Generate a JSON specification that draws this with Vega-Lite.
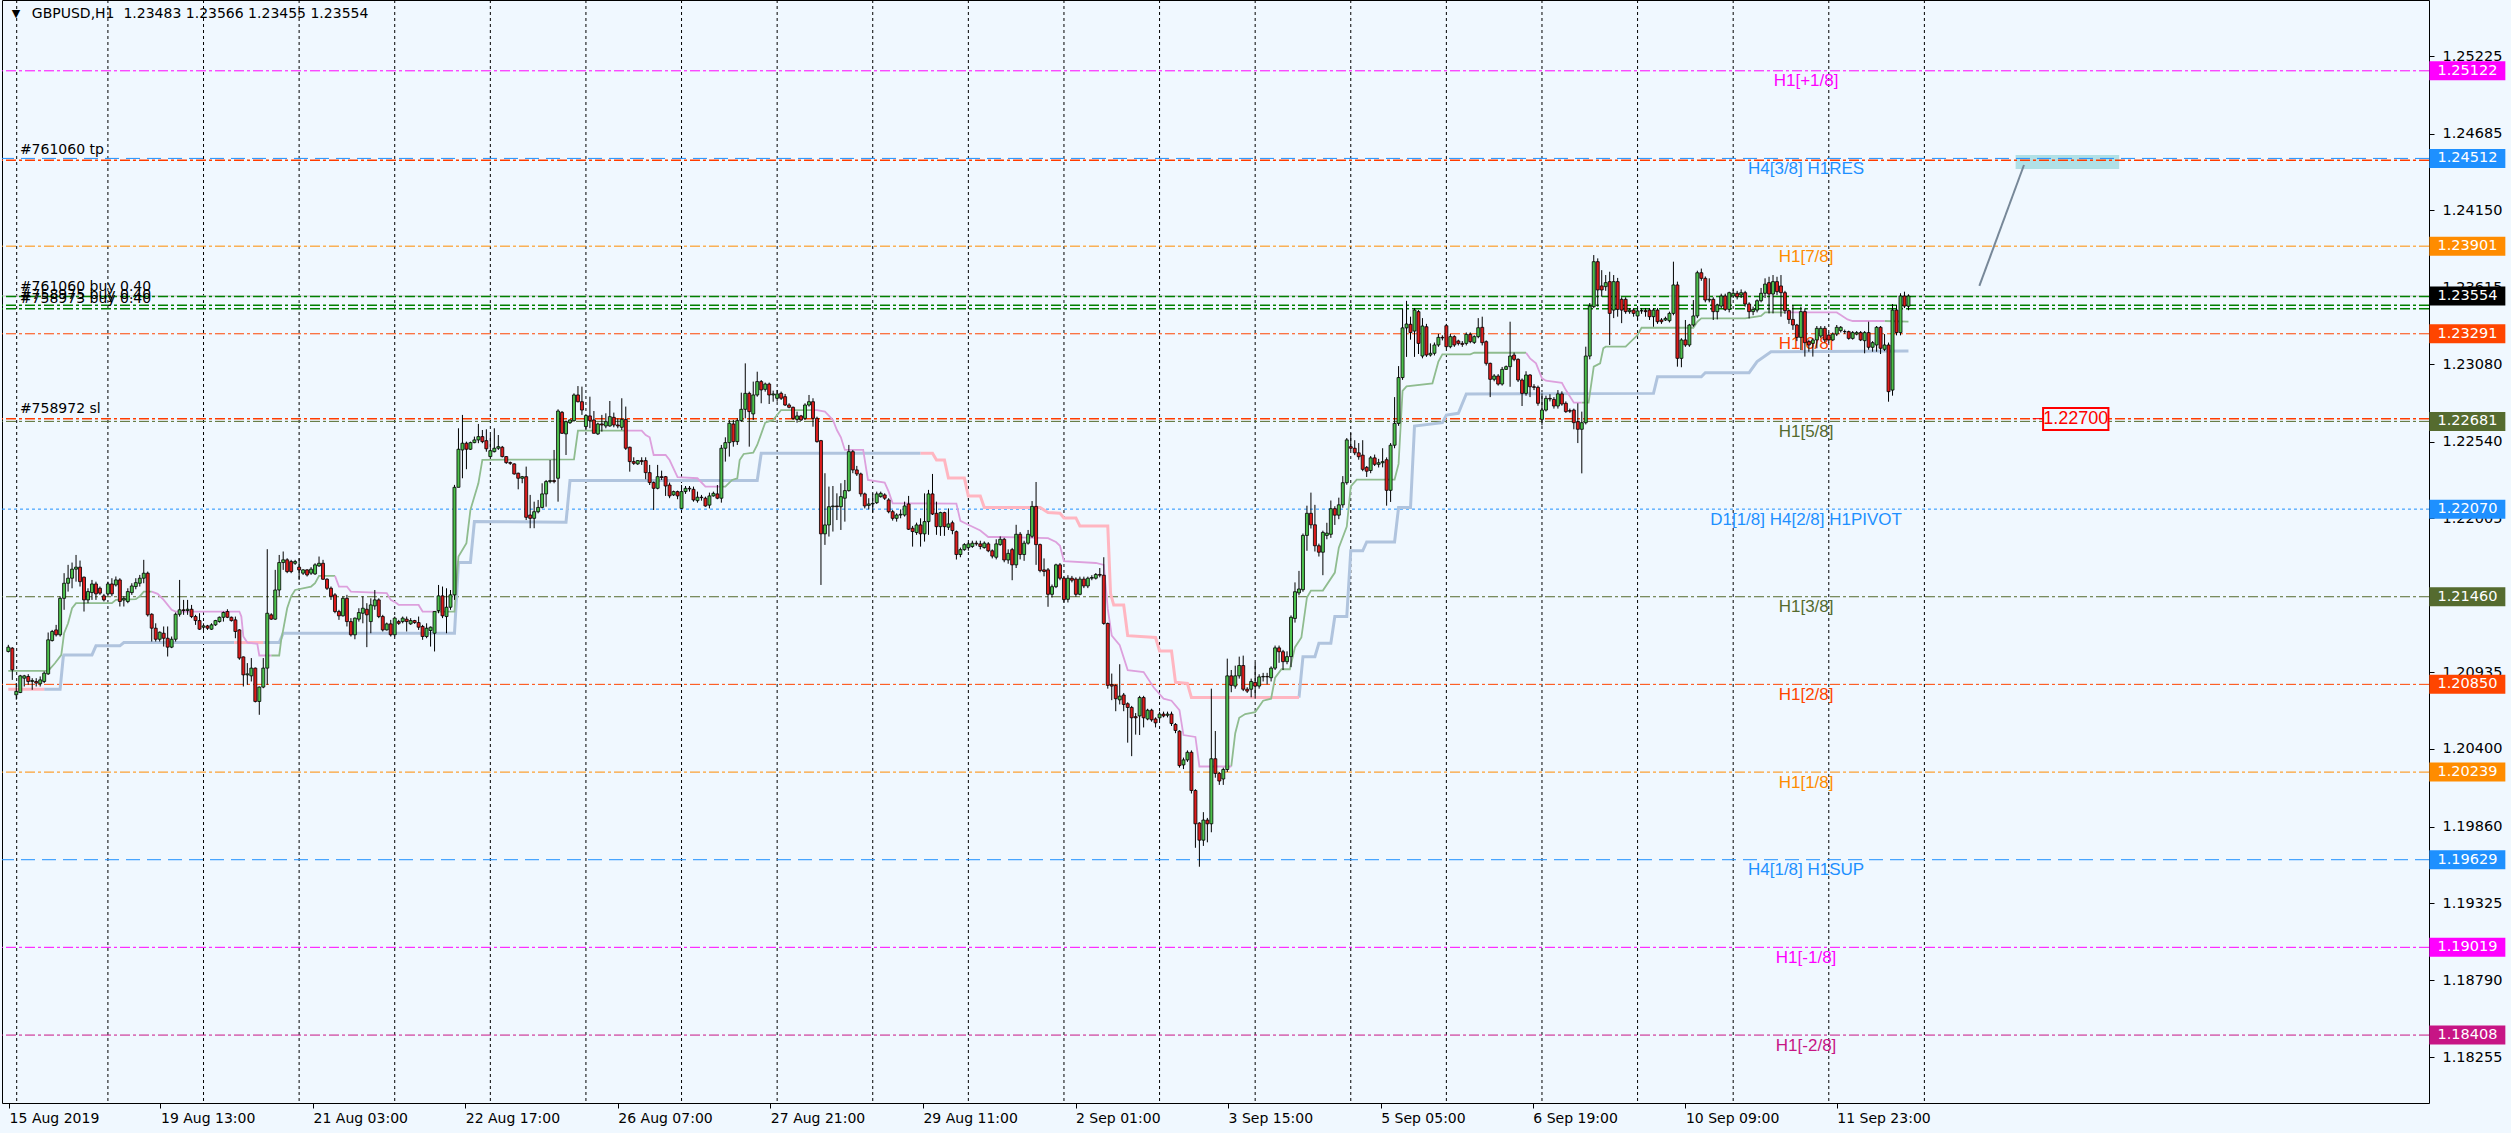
{
"$schema": "https://vega.github.io/schema/vega-lite/v6.json",
"width": 2427, "height": 1103,
"autosize": {"type": "none"},
"padding": {"left": 2, "top": 0, "right": 82, "bottom": 30},
"background": "#F0F8FF",
"config": {"view": {"stroke": "#000000", "strokeWidth": 1}, "axis": {"grid": false, "domain": false, "title": null}},
"datasets": {
"grid": [{"k":2.1},{"k":25},{"k":49},{"k":73},{"k":97},{"k":121},{"k":145},{"k":169},{"k":193},{"k":217},{"k":241},{"k":265},{"k":289},{"k":313},{"k":337},{"k":361},{"k":385},{"k":409},{"k":433},{"k":457},{"k":481}],
"levels": [
{"p":1.25122,"lbl":"H1[+1/8]"},
{"p":1.24512,"lbl":"H4[3/8] H1RES"},
{"p":1.23901,"lbl":"H1[7/8]"},
{"p":1.23291,"lbl":"H1[6/8]"},
{"p":1.22681,"lbl":"H1[5/8]"},
{"p":1.2207,"lbl":"D1[1/8] H4[2/8] H1PIVOT"},
{"p":1.2146,"lbl":"H1[3/8]"},
{"p":1.2085,"lbl":"H1[2/8]"},
{"p":1.20239,"lbl":"H1[1/8]"},
{"p":1.19629,"lbl":"H4[1/8] H1SUP"},
{"p":1.19019,"lbl":"H1[-1/8]"},
{"p":1.18408,"lbl":"H1[-2/8]"}],
"orders": [
{"p":1.2355,"name":"#761060 buy 0.40","kind":"buy"},
{"p":1.23489,"name":"#758975 buy 0.40","kind":"buy"},
{"p":1.23466,"name":"#758973 buy 0.40","kind":"buy"},
{"p":1.245,"name":"#761060 tp","kind":"tp"},
{"p":1.227,"name":"#758972 sl","kind":"sl"}],
"trend": [{"k":494.8,"p":1.23624},{"k":506.0,"p":1.24466}],
"bid": [{"p":1.23554}],
"title": [{"t":"GBPUSD,H1\u00a0\u00a01.23483 1.23566 1.23455 1.23554"}],
"ind": [
{"t":"fu","s":"A1","k":0,"v":1.20944},{"t":"fu","s":"A1","k":10,"v":1.20944},{"t":"fu","s":"A1","k":11.7,"v":1.20997},{"t":"fu","s":"A1","k":13.3,"v":1.21055},{"t":"fu","s":"A1","k":14,"v":1.21206},{"t":"fu","s":"A1","k":15,"v":1.21275},{"t":"fu","s":"A1","k":16,"v":1.2138},{"t":"fu","s":"A1","k":17,"v":1.21415},{"t":"fu","s":"A1","k":26,"v":1.21415},{"t":"fu","s":"A1","k":27,"v":1.21438},{"t":"fu","s":"A1","k":32,"v":1.21443},{"t":"fu","s":"A1","k":33,"v":1.21463},{"t":"fu","s":"A1","k":34,"v":1.21496},{"t":"fu","s":"A1","k":36,"v":1.21496},
{"t":"fd","s":"A2","k":36,"v":1.21496},{"t":"fd","s":"A2","k":37.5,"v":1.2148},{"t":"fd","s":"A2","k":39,"v":1.21438},{"t":"fd","s":"A2","k":41,"v":1.21369},{"t":"fd","s":"A2","k":42,"v":1.21357},{"t":"fd","s":"A2","k":58,"v":1.21357},{"t":"fd","s":"A2","k":58.5,"v":1.21322},{"t":"fd","s":"A2","k":59,"v":1.21183},{"t":"fd","s":"A2","k":60,"v":1.21141},{"t":"fd","s":"A2","k":62.5,"v":1.21132},{"t":"fd","s":"A2","k":63,"v":1.21051},{"t":"fd","s":"A2","k":66,"v":1.21051},
{"t":"fu","s":"A3","k":66,"v":1.21051},{"t":"fu","s":"A3","k":68,"v":1.21051},{"t":"fu","s":"A3","k":68.5,"v":1.2116},{"t":"fu","s":"A3","k":69,"v":1.21229},{"t":"fu","s":"A3","k":70,"v":1.2138},{"t":"fu","s":"A3","k":71,"v":1.21463},{"t":"fu","s":"A3","k":72,"v":1.21507},{"t":"fu","s":"A3","k":76,"v":1.21531},{"t":"fu","s":"A3","k":77,"v":1.21554},{"t":"fu","s":"A3","k":78,"v":1.21605},{"t":"fu","s":"A3","k":82,"v":1.21605},
{"t":"fd","s":"A4","k":82,"v":1.21605},{"t":"fd","s":"A4","k":83,"v":1.21531},{"t":"fd","s":"A4","k":85,"v":1.21531},{"t":"fd","s":"A4","k":86,"v":1.21496},{"t":"fd","s":"A4","k":95,"v":1.21485},{"t":"fd","s":"A4","k":96,"v":1.21438},{"t":"fd","s":"A4","k":97.5,"v":1.21415},{"t":"fd","s":"A4","k":98,"v":1.21403},{"t":"fd","s":"A4","k":103,"v":1.21403},{"t":"fd","s":"A4","k":104,"v":1.21357},{"t":"fd","s":"A4","k":107,"v":1.21357},
{"t":"fu","s":"A5","k":107,"v":1.21357},{"t":"fu","s":"A5","k":112,"v":1.21357},{"t":"fu","s":"A5","k":112.5,"v":1.21554},{"t":"fu","s":"A5","k":113,"v":1.2174},{"t":"fu","s":"A5","k":115,"v":1.21833},{"t":"fu","s":"A5","k":116,"v":1.22065},{"t":"fu","s":"A5","k":118,"v":1.2225},{"t":"fu","s":"A5","k":119,"v":1.22413},{"t":"fu","s":"A5","k":142,"v":1.22417},{"t":"fu","s":"A5","k":143,"v":1.22617},{"t":"fu","s":"A5","k":155,"v":1.22617},
{"t":"fd","s":"A6","k":155,"v":1.22617},{"t":"fd","s":"A6","k":159,"v":1.22617},{"t":"fd","s":"A6","k":160,"v":1.22586},{"t":"fd","s":"A6","k":161,"v":1.2257},{"t":"fd","s":"A6","k":162,"v":1.22447},{"t":"fd","s":"A6","k":165,"v":1.22447},{"t":"fd","s":"A6","k":166,"v":1.22412},{"t":"fd","s":"A6","k":168,"v":1.22292},{"t":"fd","s":"A6","k":173,"v":1.22285},{"t":"fd","s":"A6","k":175,"v":1.22227},{"t":"fd","s":"A6","k":179,"v":1.22227},
{"t":"fu","s":"A7","k":179,"v":1.22227},{"t":"fu","s":"A7","k":180,"v":1.22227},{"t":"fu","s":"A7","k":181.7,"v":1.22273},{"t":"fu","s":"A7","k":183,"v":1.22285},{"t":"fu","s":"A7","k":183.6,"v":1.22412},{"t":"fu","s":"A7","k":184.6,"v":1.22454},{"t":"fu","s":"A7","k":187,"v":1.22463},{"t":"fu","s":"A7","k":188,"v":1.22517},{"t":"fu","s":"A7","k":190,"v":1.22672},{"t":"fu","s":"A7","k":192,"v":1.22691},{"t":"fu","s":"A7","k":194,"v":1.2276},{"t":"fu","s":"A7","k":202,"v":1.2276},
{"t":"fd","s":"A8","k":202,"v":1.2276},{"t":"fd","s":"A8","k":203,"v":1.2276},{"t":"fd","s":"A8","k":205,"v":1.22749},{"t":"fd","s":"A8","k":207,"v":1.22691},{"t":"fd","s":"A8","k":208,"v":1.22621},{"t":"fd","s":"A8","k":209,"v":1.2257},{"t":"fd","s":"A8","k":210,"v":1.22482},{"t":"fd","s":"A8","k":214.6,"v":1.22482},{"t":"fd","s":"A8","k":215.8,"v":1.22273},{"t":"fd","s":"A8","k":220,"v":1.22255},{"t":"fd","s":"A8","k":221,"v":1.22192},{"t":"fd","s":"A8","k":222,"v":1.22111},{"t":"fd","s":"A8","k":238,"v":1.22108},{"t":"fd","s":"A8","k":239,"v":1.21988},{"t":"fd","s":"A8","k":241,"v":1.21961},{"t":"fd","s":"A8","k":244,"v":1.21921},{"t":"fd","s":"A8","k":246,"v":1.21876},{"t":"fd","s":"A8","k":249,"v":1.21876},{"t":"fd","s":"A8","k":261,"v":1.21868},{"t":"fd","s":"A8","k":263,"v":1.21841},{"t":"fd","s":"A8","k":264,"v":1.21815},{"t":"fd","s":"A8","k":265,"v":1.21708},{"t":"fd","s":"A8","k":273,"v":1.21695},{"t":"fd","s":"A8","k":275,"v":1.21682},{"t":"fd","s":"A8","k":276,"v":1.21375},{"t":"fd","s":"A8","k":277,"v":1.21189},{"t":"fd","s":"A8","k":279,"v":1.21123},{"t":"fd","s":"A8","k":281,"v":1.20949},{"t":"fd","s":"A8","k":285,"v":1.20936},{"t":"fd","s":"A8","k":287.5,"v":1.2083},{"t":"fd","s":"A8","k":290,"v":1.2075},{"t":"fd","s":"A8","k":292,"v":1.20736},{"t":"fd","s":"A8","k":294,"v":1.2067},{"t":"fd","s":"A8","k":295,"v":1.20497},{"t":"fd","s":"A8","k":298,"v":1.20484},{"t":"fd","s":"A8","k":299,"v":1.20278},{"t":"fd","s":"A8","k":307,"v":1.20278},
{"t":"fu","s":"A9","k":307,"v":1.20278},{"t":"fu","s":"A9","k":308,"v":1.2051},{"t":"fu","s":"A9","k":309,"v":1.20617},{"t":"fu","s":"A9","k":310.5,"v":1.20643},{"t":"fu","s":"A9","k":313,"v":1.20657},{"t":"fu","s":"A9","k":315,"v":1.20736},{"t":"fu","s":"A9","k":317,"v":1.2075},{"t":"fu","s":"A9","k":318,"v":1.20896},{"t":"fu","s":"A9","k":319.6,"v":1.20955},{"t":"fu","s":"A9","k":321.7,"v":1.20955},{"t":"fu","s":"A9","k":323,"v":1.21109},{"t":"fu","s":"A9","k":324.6,"v":1.21176},{"t":"fu","s":"A9","k":326,"v":1.21455},{"t":"fu","s":"A9","k":327,"v":1.21503},{"t":"fu","s":"A9","k":330,"v":1.21503},{"t":"fu","s":"A9","k":333,"v":1.21628},{"t":"fu","s":"A9","k":334,"v":1.21802},{"t":"fu","s":"A9","k":336,"v":1.21948},{"t":"fu","s":"A9","k":337,"v":1.22228},{"t":"fu","s":"A9","k":338.5,"v":1.22276},{"t":"fu","s":"A9","k":348,"v":1.22276},{"t":"fu","s":"A9","k":349,"v":1.22385},{"t":"fu","s":"A9","k":350,"v":1.22893},{"t":"fu","s":"A9","k":351,"v":1.22925},{"t":"fu","s":"A9","k":357.5,"v":1.22946},{"t":"fu","s":"A9","k":359,"v":1.23097},{"t":"fu","s":"A9","k":360,"v":1.23148},{"t":"fu","s":"A9","k":367,"v":1.23148},{"t":"fu","s":"A9","k":368,"v":1.23159},{"t":"fu","s":"A9","k":381,"v":1.23159},
{"t":"fd","s":"A10","k":381,"v":1.23159},{"t":"fd","s":"A10","k":382,"v":1.2312},{"t":"fd","s":"A10","k":383.5,"v":1.23085},{"t":"fd","s":"A10","k":385,"v":1.22981},{"t":"fd","s":"A10","k":386,"v":1.22964},{"t":"fd","s":"A10","k":390,"v":1.2295},{"t":"fd","s":"A10","k":391,"v":1.22899},{"t":"fd","s":"A10","k":393,"v":1.22811},{"t":"fd","s":"A10","k":395,"v":1.22811},
{"t":"fu","s":"A11","k":395,"v":1.22811},{"t":"fu","s":"A11","k":396.7,"v":1.22811},{"t":"fu","s":"A11","k":398,"v":1.23062},{"t":"fu","s":"A11","k":399.6,"v":1.23085},{"t":"fu","s":"A11","k":400.4,"v":1.2319},{"t":"fu","s":"A11","k":401,"v":1.23201},{"t":"fu","s":"A11","k":406,"v":1.23201},{"t":"fu","s":"A11","k":409,"v":1.23282},{"t":"fu","s":"A11","k":410,"v":1.23333},{"t":"fu","s":"A11","k":423,"v":1.23333},{"t":"fu","s":"A11","k":424,"v":1.23375},{"t":"fu","s":"A11","k":425,"v":1.23398},{"t":"fu","s":"A11","k":436,"v":1.23398},{"t":"fu","s":"A11","k":440,"v":1.23415},{"t":"fu","s":"A11","k":441,"v":1.2344},{"t":"fu","s":"A11","k":446,"v":1.2344},
{"t":"fd","s":"A12","k":446,"v":1.2344},{"t":"fd","s":"A12","k":459,"v":1.2344},{"t":"fd","s":"A12","k":460,"v":1.23422},{"t":"fd","s":"A12","k":461.7,"v":1.23391},{"t":"fd","s":"A12","k":463,"v":1.2338},{"t":"fd","s":"A12","k":471,"v":1.2338},
{"t":"fu","s":"A13","k":471,"v":1.2338},{"t":"fu","s":"A13","k":477,"v":1.23375},
{"t":"sd","s":"B1","k":0,"v":1.20816},{"t":"sd","s":"B1","k":9,"v":1.20816},
{"t":"su","s":"B2","k":9,"v":1.20816},{"t":"su","s":"B2","k":13,"v":1.20816},{"t":"su","s":"B2","k":13.8,"v":1.21044},{"t":"su","s":"B2","k":14,"v":1.21055},{"t":"su","s":"B2","k":21,"v":1.21055},{"t":"su","s":"B2","k":22,"v":1.21118},{"t":"su","s":"B2","k":28,"v":1.21118},{"t":"su","s":"B2","k":29,"v":1.21141},{"t":"su","s":"B2","k":56.7,"v":1.21141},
{"t":"sd","s":"B3","k":56.7,"v":1.21141},{"t":"sd","s":"B3","k":64,"v":1.21141},
{"t":"su","s":"B4","k":64,"v":1.21141},{"t":"su","s":"B4","k":68,"v":1.21141},{"t":"su","s":"B4","k":69,"v":1.21206},{"t":"su","s":"B4","k":112,"v":1.21206},{"t":"su","s":"B4","k":113,"v":1.21698},{"t":"su","s":"B4","k":116,"v":1.21698},{"t":"su","s":"B4","k":117,"v":1.21983},{"t":"su","s":"B4","k":140,"v":1.21979},{"t":"su","s":"B4","k":141,"v":1.22269},{"t":"su","s":"B4","k":188,"v":1.22269},{"t":"su","s":"B4","k":189,"v":1.22459},{"t":"su","s":"B4","k":229,"v":1.22459},
{"t":"sd","s":"B5","k":229,"v":1.22459},{"t":"sd","s":"B5","k":232,"v":1.22459},{"t":"sd","s":"B5","k":233,"v":1.22412},{"t":"sd","s":"B5","k":235,"v":1.22412},{"t":"sd","s":"B5","k":236,"v":1.22286},{"t":"sd","s":"B5","k":240,"v":1.22286},{"t":"sd","s":"B5","k":241,"v":1.22161},{"t":"sd","s":"B5","k":244,"v":1.22161},{"t":"sd","s":"B5","k":245,"v":1.22081},{"t":"sd","s":"B5","k":259,"v":1.22081},{"t":"sd","s":"B5","k":261,"v":1.22047},{"t":"sd","s":"B5","k":264,"v":1.22041},{"t":"sd","s":"B5","k":265,"v":1.22009},{"t":"sd","s":"B5","k":268,"v":1.22009},{"t":"sd","s":"B5","k":269,"v":1.21953},{"t":"sd","s":"B5","k":276,"v":1.21953},{"t":"sd","s":"B5","k":276.7,"v":1.21482},{"t":"sd","s":"B5","k":277.5,"v":1.21402},{"t":"sd","s":"B5","k":280,"v":1.21402},{"t":"sd","s":"B5","k":281,"v":1.21189},{"t":"sd","s":"B5","k":288,"v":1.21176},{"t":"sd","s":"B5","k":289,"v":1.21083},{"t":"sd","s":"B5","k":292,"v":1.21083},{"t":"sd","s":"B5","k":293,"v":1.20864},{"t":"sd","s":"B5","k":296,"v":1.20856},{"t":"sd","s":"B5","k":297,"v":1.20758},{"t":"sd","s":"B5","k":324,"v":1.20758},
{"t":"su","s":"B6","k":324,"v":1.20758},{"t":"su","s":"B6","k":325,"v":1.21043},{"t":"su","s":"B6","k":328,"v":1.21043},{"t":"su","s":"B6","k":329,"v":1.21136},{"t":"su","s":"B6","k":332,"v":1.21136},{"t":"su","s":"B6","k":333,"v":1.21322},{"t":"su","s":"B6","k":336,"v":1.21322},{"t":"su","s":"B6","k":337,"v":1.2178},{"t":"su","s":"B6","k":340,"v":1.2178},{"t":"su","s":"B6","k":341,"v":1.21842},{"t":"su","s":"B6","k":348,"v":1.21842},{"t":"su","s":"B6","k":349,"v":1.22081},{"t":"su","s":"B6","k":352,"v":1.22081},{"t":"su","s":"B6","k":353,"v":1.22649},{"t":"su","s":"B6","k":360,"v":1.22672},{"t":"su","s":"B6","k":361,"v":1.22725},{"t":"su","s":"B6","k":364,"v":1.22737},{"t":"su","s":"B6","k":366,"v":1.22872},{"t":"su","s":"B6","k":413,"v":1.22876},{"t":"su","s":"B6","k":414,"v":1.22992},{"t":"su","s":"B6","k":425,"v":1.22992},{"t":"su","s":"B6","k":426,"v":1.2302},{"t":"su","s":"B6","k":437,"v":1.2302},{"t":"su","s":"B6","k":439,"v":1.23097},{"t":"su","s":"B6","k":442.5,"v":1.23166},{"t":"su","s":"B6","k":477,"v":1.23171}
],
"candles": [
{"k":0,"o":1.21079,"h":1.21125,"l":1.21072,"c":1.21109},
{"k":1,"o":1.21102,"h":1.21109,"l":1.20881,"c":1.20951},
{"k":2,"o":1.20777,"h":1.20859,"l":1.20743,"c":1.20801},
{"k":3,"o":1.20793,"h":1.20916,"l":1.20789,"c":1.20909},
{"k":4,"o":1.20893,"h":1.20916,"l":1.20835,"c":1.20909},
{"k":5,"o":1.20905,"h":1.20921,"l":1.20847,"c":1.2087},
{"k":6,"o":1.2087,"h":1.20893,"l":1.20812,"c":1.20877},
{"k":7,"o":1.2087,"h":1.20893,"l":1.20835,"c":1.20859},
{"k":8,"o":1.20854,"h":1.20905,"l":1.20835,"c":1.20881},
{"k":9,"o":1.2087,"h":1.2094,"l":1.20859,"c":1.20928},
{"k":10,"o":1.20923,"h":1.21211,"l":1.20916,"c":1.2116},
{"k":11,"o":1.21155,"h":1.21229,"l":1.21148,"c":1.21218},
{"k":12,"o":1.21229,"h":1.21264,"l":1.21183,"c":1.21195},
{"k":13,"o":1.21195,"h":1.21463,"l":1.21183,"c":1.21449},
{"k":14,"o":1.21449,"h":1.21624,"l":1.21369,"c":1.21554},
{"k":15,"o":1.21554,"h":1.21682,"l":1.21496,"c":1.21589},
{"k":16,"o":1.21589,"h":1.21698,"l":1.21519,"c":1.21652},
{"k":17,"o":1.21652,"h":1.21751,"l":1.21565,"c":1.21666},
{"k":18,"o":1.21666,"h":1.21712,"l":1.21531,"c":1.21565},
{"k":19,"o":1.21596,"h":1.21601,"l":1.21357,"c":1.21438},
{"k":20,"o":1.21438,"h":1.21519,"l":1.21415,"c":1.21496},
{"k":21,"o":1.21489,"h":1.21577,"l":1.21438,"c":1.21549},
{"k":22,"o":1.21549,"h":1.21565,"l":1.21438,"c":1.2148},
{"k":23,"o":1.21519,"h":1.21531,"l":1.21473,"c":1.21485},
{"k":24,"o":1.21466,"h":1.2148,"l":1.21427,"c":1.21438},
{"k":25,"o":1.2148,"h":1.21565,"l":1.21473,"c":1.21549},
{"k":26,"o":1.21549,"h":1.21589,"l":1.21463,"c":1.2148},
{"k":27,"o":1.21542,"h":1.21601,"l":1.21531,"c":1.21577},
{"k":28,"o":1.21577,"h":1.21589,"l":1.21392,"c":1.21427},
{"k":29,"o":1.21438,"h":1.21463,"l":1.21392,"c":1.21449},
{"k":30,"o":1.21427,"h":1.21519,"l":1.21415,"c":1.21496},
{"k":31,"o":1.21489,"h":1.21554,"l":1.21473,"c":1.21535},
{"k":32,"o":1.21531,"h":1.21589,"l":1.21512,"c":1.21558},
{"k":33,"o":1.21554,"h":1.21612,"l":1.21531,"c":1.21589},
{"k":34,"o":1.21589,"h":1.21717,"l":1.21554,"c":1.21624},
{"k":35,"o":1.21624,"h":1.21635,"l":1.21322,"c":1.21334},
{"k":36,"o":1.21338,"h":1.21345,"l":1.21148,"c":1.21241},
{"k":37,"o":1.21241,"h":1.21275,"l":1.21148,"c":1.21164},
{"k":38,"o":1.21164,"h":1.21218,"l":1.21148,"c":1.21213},
{"k":39,"o":1.21206,"h":1.21253,"l":1.21113,"c":1.21171},
{"k":40,"o":1.21171,"h":1.21253,"l":1.21044,"c":1.21109},
{"k":41,"o":1.21109,"h":1.21183,"l":1.21102,"c":1.21164},
{"k":42,"o":1.21164,"h":1.2135,"l":1.21148,"c":1.21338},
{"k":43,"o":1.21338,"h":1.21577,"l":1.21322,"c":1.21369},
{"k":44,"o":1.21369,"h":1.21438,"l":1.21334,"c":1.21364},
{"k":45,"o":1.21364,"h":1.21438,"l":1.21334,"c":1.21373},
{"k":46,"o":1.21373,"h":1.21403,"l":1.21311,"c":1.21322},
{"k":47,"o":1.21322,"h":1.21334,"l":1.21264,"c":1.21294},
{"k":48,"o":1.21294,"h":1.21345,"l":1.21229,"c":1.21234},
{"k":49,"o":1.21248,"h":1.21275,"l":1.21229,"c":1.21257},
{"k":50,"o":1.21257,"h":1.21264,"l":1.21229,"c":1.21241},
{"k":51,"o":1.21234,"h":1.21275,"l":1.21229,"c":1.21264},
{"k":52,"o":1.21264,"h":1.21299,"l":1.21257,"c":1.21294},
{"k":53,"o":1.21287,"h":1.21322,"l":1.2128,"c":1.21317},
{"k":54,"o":1.21317,"h":1.21357,"l":1.21287,"c":1.2135},
{"k":55,"o":1.21357,"h":1.21373,"l":1.21311,"c":1.21317},
{"k":56,"o":1.21317,"h":1.21322,"l":1.21287,"c":1.21294},
{"k":57,"o":1.21299,"h":1.21322,"l":1.21171,"c":1.21218},
{"k":58,"o":1.21229,"h":1.21234,"l":1.21021,"c":1.21033},
{"k":59,"o":1.21041,"h":1.21044,"l":1.20835,"c":1.20916},
{"k":60,"o":1.20916,"h":1.20998,"l":1.20847,"c":1.20923},
{"k":61,"o":1.20909,"h":1.21033,"l":1.2087,"c":1.20963},
{"k":62,"o":1.20963,"h":1.20967,"l":1.20724,"c":1.20731},
{"k":63,"o":1.20731,"h":1.20835,"l":1.20638,"c":1.20831},
{"k":64,"o":1.20831,"h":1.21033,"l":1.20823,"c":1.20963},
{"k":65,"o":1.20963,"h":1.21791,"l":1.20847,"c":1.21345},
{"k":66,"o":1.21334,"h":1.21345,"l":1.21299,"c":1.21304},
{"k":67,"o":1.21304,"h":1.21647,"l":1.21299,"c":1.21507},
{"k":68,"o":1.21507,"h":1.21751,"l":1.21463,"c":1.21698},
{"k":69,"o":1.21698,"h":1.21775,"l":1.21647,"c":1.21717},
{"k":70,"o":1.21717,"h":1.21728,"l":1.21624,"c":1.21635},
{"k":71,"o":1.21705,"h":1.21717,"l":1.21624,"c":1.21635},
{"k":72,"o":1.21693,"h":1.21717,"l":1.21682,"c":1.21705},
{"k":73,"o":1.21666,"h":1.21728,"l":1.21577,"c":1.21647},
{"k":74,"o":1.21624,"h":1.21652,"l":1.21612,"c":1.21647},
{"k":75,"o":1.21647,"h":1.21652,"l":1.21601,"c":1.21612},
{"k":76,"o":1.21624,"h":1.21666,"l":1.21612,"c":1.21652},
{"k":77,"o":1.21619,"h":1.21693,"l":1.21612,"c":1.21682},
{"k":78,"o":1.21675,"h":1.2174,"l":1.21668,"c":1.21693},
{"k":79,"o":1.21693,"h":1.21717,"l":1.21577,"c":1.21582},
{"k":80,"o":1.21582,"h":1.21589,"l":1.21507,"c":1.21519},
{"k":81,"o":1.21519,"h":1.21531,"l":1.21438,"c":1.21463},
{"k":82,"o":1.21473,"h":1.21485,"l":1.21345,"c":1.21357},
{"k":83,"o":1.21357,"h":1.21369,"l":1.21299,"c":1.21327},
{"k":84,"o":1.21327,"h":1.21463,"l":1.21322,"c":1.21449},
{"k":85,"o":1.21449,"h":1.21473,"l":1.21253,"c":1.21287},
{"k":86,"o":1.21287,"h":1.21311,"l":1.21183,"c":1.21195},
{"k":87,"o":1.21195,"h":1.21315,"l":1.21164,"c":1.21311},
{"k":88,"o":1.21304,"h":1.2138,"l":1.21287,"c":1.2135},
{"k":89,"o":1.21345,"h":1.21463,"l":1.21275,"c":1.2138},
{"k":90,"o":1.21373,"h":1.21415,"l":1.21109,"c":1.21334},
{"k":91,"o":1.21287,"h":1.21449,"l":1.21206,"c":1.21403},
{"k":92,"o":1.21396,"h":1.21507,"l":1.21369,"c":1.21438},
{"k":93,"o":1.21438,"h":1.21449,"l":1.21311,"c":1.21322},
{"k":94,"o":1.21322,"h":1.21334,"l":1.21218,"c":1.21229},
{"k":95,"o":1.21229,"h":1.2128,"l":1.21225,"c":1.21271},
{"k":96,"o":1.21271,"h":1.21299,"l":1.21183,"c":1.21195},
{"k":97,"o":1.21195,"h":1.21322,"l":1.21183,"c":1.21311},
{"k":98,"o":1.21287,"h":1.21299,"l":1.21264,"c":1.21275},
{"k":99,"o":1.21287,"h":1.21322,"l":1.21275,"c":1.21311},
{"k":100,"o":1.21304,"h":1.21322,"l":1.21218,"c":1.21287},
{"k":101,"o":1.21271,"h":1.21311,"l":1.21264,"c":1.21294},
{"k":102,"o":1.21294,"h":1.21299,"l":1.21271,"c":1.2128},
{"k":103,"o":1.2128,"h":1.21322,"l":1.21229,"c":1.21248},
{"k":104,"o":1.21253,"h":1.21264,"l":1.2116,"c":1.21183},
{"k":105,"o":1.21183,"h":1.21275,"l":1.21171,"c":1.21241},
{"k":106,"o":1.21225,"h":1.21253,"l":1.21113,"c":1.21248},
{"k":107,"o":1.21206,"h":1.21357,"l":1.21079,"c":1.21357},
{"k":108,"o":1.21364,"h":1.21542,"l":1.21345,"c":1.21466},
{"k":109,"o":1.21466,"h":1.21531,"l":1.21311,"c":1.21327},
{"k":110,"o":1.21322,"h":1.21519,"l":1.21206,"c":1.21387},
{"k":111,"o":1.21387,"h":1.21507,"l":1.21369,"c":1.21473},
{"k":112,"o":1.21473,"h":1.22239,"l":1.21438,"c":1.22222},
{"k":113,"o":1.22222,"h":1.22633,"l":1.22222,"c":1.22487},
{"k":114,"o":1.22482,"h":1.22726,"l":1.22285,"c":1.22529},
{"k":115,"o":1.22529,"h":1.2254,"l":1.22348,"c":1.22487},
{"k":116,"o":1.22487,"h":1.2254,"l":1.22482,"c":1.22533},
{"k":117,"o":1.22533,"h":1.22575,"l":1.22529,"c":1.22552},
{"k":118,"o":1.22552,"h":1.22663,"l":1.22529,"c":1.22575},
{"k":119,"o":1.22575,"h":1.22621,"l":1.22529,"c":1.2254},
{"k":120,"o":1.22547,"h":1.22626,"l":1.2247,"c":1.2249},
{"k":121,"o":1.22436,"h":1.22586,"l":1.22436,"c":1.22477},
{"k":122,"o":1.2247,"h":1.22633,"l":1.22465,"c":1.22494},
{"k":123,"o":1.22494,"h":1.22586,"l":1.22482,"c":1.22505},
{"k":124,"o":1.22501,"h":1.2251,"l":1.2243,"c":1.22436},
{"k":125,"o":1.22436,"h":1.2244,"l":1.22385,"c":1.22394},
{"k":126,"o":1.22394,"h":1.22401,"l":1.22378,"c":1.22389},
{"k":127,"o":1.22385,"h":1.22389,"l":1.2231,"c":1.22315},
{"k":128,"o":1.2232,"h":1.22324,"l":1.22208,"c":1.22285},
{"k":129,"o":1.22285,"h":1.22301,"l":1.2225,"c":1.22296},
{"k":130,"o":1.22296,"h":1.22366,"l":1.21994,"c":1.22013},
{"k":131,"o":1.22029,"h":1.22169,"l":1.21937,"c":1.22006},
{"k":132,"o":1.22006,"h":1.22122,"l":1.21937,"c":1.22052},
{"k":133,"o":1.22052,"h":1.22134,"l":1.22041,"c":1.22082},
{"k":134,"o":1.22082,"h":1.2225,"l":1.22075,"c":1.22176},
{"k":135,"o":1.22176,"h":1.22273,"l":1.22087,"c":1.22262},
{"k":136,"o":1.22262,"h":1.22412,"l":1.2225,"c":1.22269},
{"k":137,"o":1.22269,"h":1.22482,"l":1.2225,"c":1.22262},
{"k":138,"o":1.22285,"h":1.22765,"l":1.22122,"c":1.22753},
{"k":139,"o":1.22744,"h":1.22753,"l":1.22594,"c":1.22598},
{"k":140,"o":1.22594,"h":1.22686,"l":1.22447,"c":1.22679},
{"k":141,"o":1.22672,"h":1.22695,"l":1.22663,"c":1.22691},
{"k":142,"o":1.22686,"h":1.22876,"l":1.22679,"c":1.22865},
{"k":143,"o":1.22865,"h":1.22927,"l":1.22813,"c":1.22818},
{"k":144,"o":1.22818,"h":1.22923,"l":1.22726,"c":1.2276},
{"k":145,"o":1.22645,"h":1.22726,"l":1.22621,"c":1.22721},
{"k":146,"o":1.22719,"h":1.22853,"l":1.22633,"c":1.22686},
{"k":147,"o":1.22691,"h":1.22753,"l":1.22598,"c":1.22598},
{"k":148,"o":1.22594,"h":1.22672,"l":1.22586,"c":1.22663},
{"k":149,"o":1.22663,"h":1.22726,"l":1.2261,"c":1.22656},
{"k":150,"o":1.22649,"h":1.22737,"l":1.22633,"c":1.22679},
{"k":151,"o":1.22649,"h":1.22823,"l":1.22644,"c":1.22714},
{"k":152,"o":1.22709,"h":1.22742,"l":1.2264,"c":1.22656},
{"k":153,"o":1.22656,"h":1.22702,"l":1.22633,"c":1.22649},
{"k":154,"o":1.2264,"h":1.22842,"l":1.22621,"c":1.22695},
{"k":155,"o":1.22695,"h":1.22784,"l":1.22482,"c":1.22494},
{"k":156,"o":1.22501,"h":1.22505,"l":1.22331,"c":1.22401},
{"k":157,"o":1.22401,"h":1.22431,"l":1.22378,"c":1.22389},
{"k":158,"o":1.22385,"h":1.22412,"l":1.22378,"c":1.22408},
{"k":159,"o":1.22408,"h":1.22431,"l":1.22378,"c":1.22401},
{"k":160,"o":1.22408,"h":1.22431,"l":1.22278,"c":1.22324},
{"k":161,"o":1.22324,"h":1.22378,"l":1.22238,"c":1.22255},
{"k":162,"o":1.22255,"h":1.22262,"l":1.22064,"c":1.22215},
{"k":163,"o":1.22215,"h":1.22378,"l":1.22208,"c":1.22296},
{"k":164,"o":1.22296,"h":1.22338,"l":1.22273,"c":1.2229},
{"k":165,"o":1.22296,"h":1.22301,"l":1.22162,"c":1.22231},
{"k":166,"o":1.22238,"h":1.22255,"l":1.22146,"c":1.22162},
{"k":167,"o":1.22169,"h":1.22199,"l":1.22162,"c":1.22192},
{"k":168,"o":1.22192,"h":1.22199,"l":1.22139,"c":1.22162},
{"k":169,"o":1.22075,"h":1.22238,"l":1.22068,"c":1.22192},
{"k":170,"o":1.22192,"h":1.22231,"l":1.22176,"c":1.22215},
{"k":171,"o":1.22215,"h":1.22231,"l":1.22192,"c":1.22211},
{"k":172,"o":1.22208,"h":1.22227,"l":1.22122,"c":1.22134},
{"k":173,"o":1.22129,"h":1.22192,"l":1.22115,"c":1.22153},
{"k":174,"o":1.22153,"h":1.22169,"l":1.22129,"c":1.2215},
{"k":175,"o":1.22146,"h":1.22157,"l":1.22087,"c":1.22092},
{"k":176,"o":1.22098,"h":1.22185,"l":1.22075,"c":1.22162},
{"k":177,"o":1.22162,"h":1.22192,"l":1.22157,"c":1.2218},
{"k":178,"o":1.22176,"h":1.22238,"l":1.22139,"c":1.22146},
{"k":179,"o":1.22146,"h":1.22517,"l":1.22115,"c":1.22494},
{"k":180,"o":1.22494,"h":1.2257,"l":1.22401,"c":1.22533},
{"k":181,"o":1.22533,"h":1.22691,"l":1.22436,"c":1.22668},
{"k":182,"o":1.22663,"h":1.22691,"l":1.22505,"c":1.2254},
{"k":183,"o":1.2254,"h":1.22702,"l":1.22517,"c":1.22686},
{"k":184,"o":1.22686,"h":1.22881,"l":1.22679,"c":1.22765},
{"k":185,"o":1.22765,"h":1.23085,"l":1.22702,"c":1.22876},
{"k":186,"o":1.22876,"h":1.22888,"l":1.22505,"c":1.22749},
{"k":187,"o":1.22733,"h":1.22958,"l":1.22691,"c":1.22865},
{"k":188,"o":1.22865,"h":1.23027,"l":1.22853,"c":1.22958},
{"k":189,"o":1.22958,"h":1.22969,"l":1.22807,"c":1.229},
{"k":190,"o":1.22904,"h":1.22951,"l":1.22888,"c":1.22941},
{"k":191,"o":1.22941,"h":1.22951,"l":1.22802,"c":1.22865},
{"k":192,"o":1.22865,"h":1.22895,"l":1.22818,"c":1.22872},
{"k":193,"o":1.22842,"h":1.229,"l":1.22818,"c":1.22872},
{"k":194,"o":1.22876,"h":1.22888,"l":1.2283,"c":1.22842},
{"k":195,"o":1.22853,"h":1.22872,"l":1.22788,"c":1.22795},
{"k":196,"o":1.22795,"h":1.22807,"l":1.22772,"c":1.22779},
{"k":197,"o":1.22779,"h":1.22784,"l":1.22691,"c":1.22702},
{"k":198,"o":1.22695,"h":1.22749,"l":1.22672,"c":1.22719},
{"k":199,"o":1.22719,"h":1.22726,"l":1.22684,"c":1.22691},
{"k":200,"o":1.22702,"h":1.22807,"l":1.22691,"c":1.22795},
{"k":201,"o":1.22795,"h":1.22865,"l":1.22784,"c":1.22818},
{"k":202,"o":1.22818,"h":1.22842,"l":1.22644,"c":1.22702},
{"k":203,"o":1.22702,"h":1.22714,"l":1.22533,"c":1.2254},
{"k":204,"o":1.22547,"h":1.22552,"l":1.21542,"c":1.21898},
{"k":205,"o":1.21898,"h":1.2232,"l":1.21821,"c":1.2196},
{"k":206,"o":1.2196,"h":1.22227,"l":1.21879,"c":1.22087},
{"k":207,"o":1.22087,"h":1.22231,"l":1.21914,"c":1.22092},
{"k":208,"o":1.22092,"h":1.2218,"l":1.21994,"c":1.22087},
{"k":209,"o":1.22087,"h":1.2225,"l":1.21925,"c":1.22157},
{"k":210,"o":1.22146,"h":1.22273,"l":1.21983,"c":1.22199},
{"k":211,"o":1.22199,"h":1.22517,"l":1.22192,"c":1.2247},
{"k":212,"o":1.2247,"h":1.22482,"l":1.2232,"c":1.22343},
{"k":213,"o":1.22343,"h":1.22371,"l":1.22301,"c":1.22315},
{"k":214,"o":1.22315,"h":1.22324,"l":1.22157,"c":1.22176},
{"k":215,"o":1.22176,"h":1.22185,"l":1.22075,"c":1.22092},
{"k":216,"o":1.22096,"h":1.22146,"l":1.22068,"c":1.22106},
{"k":217,"o":1.22106,"h":1.2218,"l":1.22046,"c":1.2211},
{"k":218,"o":1.22115,"h":1.22192,"l":1.22106,"c":1.22176},
{"k":219,"o":1.22157,"h":1.22192,"l":1.2215,"c":1.2218},
{"k":220,"o":1.22169,"h":1.2218,"l":1.22134,"c":1.22146},
{"k":221,"o":1.22134,"h":1.22146,"l":1.22041,"c":1.22052},
{"k":222,"o":1.22052,"h":1.22064,"l":1.2199,"c":1.22006},
{"k":223,"o":1.22006,"h":1.22041,"l":1.21983,"c":1.22029},
{"k":224,"o":1.22029,"h":1.22068,"l":1.22006,"c":1.22034},
{"k":225,"o":1.22029,"h":1.22122,"l":1.22018,"c":1.22092},
{"k":226,"o":1.22106,"h":1.22162,"l":1.21925,"c":1.2193},
{"k":227,"o":1.21937,"h":1.21953,"l":1.21809,"c":1.21914},
{"k":228,"o":1.21907,"h":1.21976,"l":1.21891,"c":1.2196},
{"k":229,"o":1.2196,"h":1.22006,"l":1.21809,"c":1.21898},
{"k":230,"o":1.21898,"h":1.2218,"l":1.21844,"c":1.21983},
{"k":231,"o":1.21983,"h":1.22204,"l":1.21891,"c":1.22176},
{"k":232,"o":1.22176,"h":1.22315,"l":1.22029,"c":1.22036},
{"k":233,"o":1.22041,"h":1.22122,"l":1.21891,"c":1.21948},
{"k":234,"o":1.21948,"h":1.22052,"l":1.21884,"c":1.22046},
{"k":235,"o":1.22046,"h":1.22052,"l":1.21884,"c":1.21948},
{"k":236,"o":1.21944,"h":1.22075,"l":1.21925,"c":1.21967},
{"k":237,"o":1.21975,"h":1.2199,"l":1.21895,"c":1.21921},
{"k":238,"o":1.21913,"h":1.21921,"l":1.21719,"c":1.21754},
{"k":239,"o":1.21754,"h":1.21802,"l":1.21735,"c":1.21788},
{"k":240,"o":1.21788,"h":1.21833,"l":1.2178,"c":1.21823},
{"k":241,"o":1.21802,"h":1.2184,"l":1.2178,"c":1.21828},
{"k":242,"o":1.2181,"h":1.2185,"l":1.218,"c":1.21833},
{"k":243,"o":1.21833,"h":1.2185,"l":1.21815,"c":1.21828},
{"k":244,"o":1.21828,"h":1.2185,"l":1.2179,"c":1.2181},
{"k":245,"o":1.21802,"h":1.21845,"l":1.21795,"c":1.21833},
{"k":246,"o":1.21828,"h":1.2184,"l":1.2177,"c":1.2178},
{"k":247,"o":1.2178,"h":1.2179,"l":1.21727,"c":1.21743},
{"k":248,"o":1.21735,"h":1.2186,"l":1.2172,"c":1.21828},
{"k":249,"o":1.21823,"h":1.2188,"l":1.21815,"c":1.2186},
{"k":250,"o":1.2186,"h":1.2187,"l":1.217,"c":1.21716},
{"k":251,"o":1.21716,"h":1.2179,"l":1.2169,"c":1.21762},
{"k":252,"o":1.21788,"h":1.218,"l":1.21575,"c":1.21682},
{"k":253,"o":1.21682,"h":1.21961,"l":1.2166,"c":1.21895},
{"k":254,"o":1.21895,"h":1.2191,"l":1.2172,"c":1.21754},
{"k":255,"o":1.21754,"h":1.2185,"l":1.2171,"c":1.21833},
{"k":256,"o":1.21833,"h":1.21925,"l":1.21823,"c":1.21895},
{"k":257,"o":1.21881,"h":1.22126,"l":1.2187,"c":1.22089},
{"k":258,"o":1.22089,"h":1.22259,"l":1.21682,"c":1.21823},
{"k":259,"o":1.21823,"h":1.2183,"l":1.2163,"c":1.21642},
{"k":260,"o":1.21647,"h":1.21727,"l":1.21602,"c":1.21636},
{"k":261,"o":1.21647,"h":1.2166,"l":1.2139,"c":1.21477},
{"k":262,"o":1.21477,"h":1.21545,"l":1.21455,"c":1.2153},
{"k":263,"o":1.2153,"h":1.2169,"l":1.2152,"c":1.21682},
{"k":264,"o":1.21682,"h":1.21695,"l":1.21575,"c":1.21589},
{"k":265,"o":1.21589,"h":1.216,"l":1.2142,"c":1.2144},
{"k":266,"o":1.21442,"h":1.2161,"l":1.2142,"c":1.21589},
{"k":267,"o":1.21589,"h":1.21605,"l":1.2156,"c":1.21575},
{"k":268,"o":1.21583,"h":1.21595,"l":1.2146,"c":1.21477},
{"k":269,"o":1.21477,"h":1.216,"l":1.2147,"c":1.21583},
{"k":270,"o":1.21583,"h":1.216,"l":1.2152,"c":1.21535},
{"k":271,"o":1.21535,"h":1.216,"l":1.2152,"c":1.21589},
{"k":272,"o":1.21589,"h":1.2161,"l":1.21575,"c":1.21594},
{"k":273,"o":1.21589,"h":1.21625,"l":1.2158,"c":1.21615},
{"k":274,"o":1.21615,"h":1.2166,"l":1.21595,"c":1.2161},
{"k":275,"o":1.2161,"h":1.21735,"l":1.21265,"c":1.21274},
{"k":276,"o":1.21274,"h":1.2128,"l":1.2082,"c":1.20843},
{"k":277,"o":1.20848,"h":1.20925,"l":1.2074,"c":1.20838},
{"k":278,"o":1.20843,"h":1.2085,"l":1.20663,"c":1.2075},
{"k":279,"o":1.20742,"h":1.2099,"l":1.2071,"c":1.20768},
{"k":280,"o":1.20776,"h":1.2079,"l":1.20663,"c":1.2071},
{"k":281,"o":1.20715,"h":1.20725,"l":1.20444,"c":1.20689},
{"k":282,"o":1.20689,"h":1.207,"l":1.2035,"c":1.20617},
{"k":283,"o":1.20625,"h":1.2065,"l":1.205,"c":1.20617},
{"k":284,"o":1.2063,"h":1.2077,"l":1.20497,"c":1.20758},
{"k":285,"o":1.20758,"h":1.2077,"l":1.2055,"c":1.20617},
{"k":286,"o":1.20609,"h":1.2068,"l":1.206,"c":1.2067},
{"k":287,"o":1.2067,"h":1.2068,"l":1.2059,"c":1.20603},
{"k":288,"o":1.20609,"h":1.2062,"l":1.2055,"c":1.20582},
{"k":289,"o":1.20617,"h":1.2066,"l":1.206,"c":1.20643},
{"k":290,"o":1.20643,"h":1.2066,"l":1.2062,"c":1.2063},
{"k":291,"o":1.20635,"h":1.2066,"l":1.2062,"c":1.20643},
{"k":292,"o":1.20643,"h":1.2066,"l":1.2056,"c":1.20577},
{"k":293,"o":1.20571,"h":1.2058,"l":1.2051,"c":1.20529},
{"k":294,"o":1.20524,"h":1.2053,"l":1.2027,"c":1.20284},
{"k":295,"o":1.20289,"h":1.2034,"l":1.2026,"c":1.20324},
{"k":296,"o":1.20324,"h":1.2039,"l":1.2031,"c":1.20377},
{"k":297,"o":1.20377,"h":1.2039,"l":1.2009,"c":1.20111},
{"k":298,"o":1.20111,"h":1.2012,"l":1.19712,"c":1.19879},
{"k":299,"o":1.19884,"h":1.1989,"l":1.1958,"c":1.19765},
{"k":300,"o":1.19765,"h":1.1996,"l":1.19725,"c":1.19905},
{"k":301,"o":1.19905,"h":1.1992,"l":1.1975,"c":1.19879},
{"k":302,"o":1.19879,"h":1.2082,"l":1.1982,"c":1.20332},
{"k":303,"o":1.20332,"h":1.20525,"l":1.202,"c":1.2023},
{"k":304,"o":1.2023,"h":1.2024,"l":1.2015,"c":1.20177},
{"k":305,"o":1.20191,"h":1.2027,"l":1.2015,"c":1.20257},
{"k":306,"o":1.20257,"h":1.21029,"l":1.2024,"c":1.20909},
{"k":307,"o":1.20909,"h":1.2095,"l":1.20795,"c":1.20843},
{"k":308,"o":1.20838,"h":1.2098,"l":1.2082,"c":1.20909},
{"k":309,"o":1.20909,"h":1.21043,"l":1.2089,"c":1.20981},
{"k":310,"o":1.20981,"h":1.2105,"l":1.20803,"c":1.20816},
{"k":311,"o":1.20816,"h":1.2083,"l":1.2079,"c":1.20803},
{"k":312,"o":1.20816,"h":1.2089,"l":1.2076,"c":1.2087},
{"k":313,"o":1.20864,"h":1.21,"l":1.2075,"c":1.20838},
{"k":314,"o":1.20838,"h":1.2092,"l":1.2082,"c":1.20902},
{"k":315,"o":1.20902,"h":1.2093,"l":1.2087,"c":1.20905},
{"k":316,"o":1.20905,"h":1.2093,"l":1.2085,"c":1.20902},
{"k":317,"o":1.20896,"h":1.20975,"l":1.2087,"c":1.20963},
{"k":318,"o":1.20963,"h":1.2112,"l":1.2095,"c":1.21104},
{"k":319,"o":1.21104,"h":1.2112,"l":1.21,"c":1.21077},
{"k":320,"o":1.21077,"h":1.2109,"l":1.2095,"c":1.21008},
{"k":321,"o":1.21008,"h":1.2108,"l":1.2099,"c":1.21043},
{"k":322,"o":1.21043,"h":1.2133,"l":1.2097,"c":1.21317},
{"k":323,"o":1.21309,"h":1.2156,"l":1.2128,"c":1.21495},
{"k":324,"o":1.21487,"h":1.2164,"l":1.2147,"c":1.21514},
{"k":325,"o":1.21509,"h":1.219,"l":1.21495,"c":1.21887},
{"k":326,"o":1.21887,"h":1.22094,"l":1.2178,"c":1.22041},
{"k":327,"o":1.22041,"h":1.22185,"l":1.21935,"c":1.21961},
{"k":328,"o":1.21961,"h":1.221,"l":1.21775,"c":1.21815},
{"k":329,"o":1.21815,"h":1.2183,"l":1.2174,"c":1.2177},
{"k":330,"o":1.2177,"h":1.2192,"l":1.2161,"c":1.21908},
{"k":331,"o":1.21887,"h":1.21975,"l":1.2186,"c":1.21903},
{"k":332,"o":1.21895,"h":1.2213,"l":1.2187,"c":1.22073},
{"k":333,"o":1.22073,"h":1.2209,"l":1.2196,"c":1.22028},
{"k":334,"o":1.22028,"h":1.2215,"l":1.22,"c":1.221},
{"k":335,"o":1.221,"h":1.223,"l":1.2208,"c":1.22254},
{"k":336,"o":1.22254,"h":1.22565,"l":1.2224,"c":1.22552},
{"k":337,"o":1.22505,"h":1.226,"l":1.2248,"c":1.22494},
{"k":338,"o":1.22494,"h":1.2255,"l":1.22446,"c":1.22462},
{"k":339,"o":1.22462,"h":1.2253,"l":1.22414,"c":1.22435},
{"k":340,"o":1.22446,"h":1.2255,"l":1.22334,"c":1.22347},
{"k":341,"o":1.22361,"h":1.2237,"l":1.22294,"c":1.22334},
{"k":342,"o":1.22339,"h":1.2244,"l":1.2232,"c":1.22427},
{"k":343,"o":1.22427,"h":1.2245,"l":1.2237,"c":1.22382},
{"k":344,"o":1.22382,"h":1.2242,"l":1.2236,"c":1.22393},
{"k":345,"o":1.22393,"h":1.22494,"l":1.22361,"c":1.22401},
{"k":346,"o":1.22414,"h":1.2243,"l":1.22094,"c":1.22201},
{"k":347,"o":1.22201,"h":1.2253,"l":1.2212,"c":1.22515},
{"k":348,"o":1.22515,"h":1.2285,"l":1.22494,"c":1.22667},
{"k":349,"o":1.22667,"h":1.23066,"l":1.2265,"c":1.22986},
{"k":350,"o":1.22986,"h":1.23465,"l":1.2297,"c":1.23332},
{"k":351,"o":1.23332,"h":1.2352,"l":1.2313,"c":1.23359},
{"k":352,"o":1.23357,"h":1.2341,"l":1.2325,"c":1.23299},
{"k":353,"o":1.2331,"h":1.2347,"l":1.2313,"c":1.23456},
{"k":354,"o":1.23445,"h":1.23456,"l":1.2315,"c":1.23224},
{"k":355,"o":1.23136,"h":1.234,"l":1.2312,"c":1.23345},
{"k":356,"o":1.2334,"h":1.2336,"l":1.2313,"c":1.23143},
{"k":357,"o":1.23143,"h":1.23224,"l":1.23132,"c":1.23155},
{"k":358,"o":1.23155,"h":1.2323,"l":1.2314,"c":1.23213},
{"k":359,"o":1.23213,"h":1.2329,"l":1.232,"c":1.23266},
{"k":360,"o":1.23266,"h":1.2328,"l":1.23245,"c":1.23262},
{"k":361,"o":1.23347,"h":1.2336,"l":1.2319,"c":1.23201},
{"k":362,"o":1.23201,"h":1.2329,"l":1.2319,"c":1.23271},
{"k":363,"o":1.23271,"h":1.2328,"l":1.232,"c":1.23213},
{"k":364,"o":1.23241,"h":1.2325,"l":1.2321,"c":1.23224},
{"k":365,"o":1.23224,"h":1.2324,"l":1.232,"c":1.23217},
{"k":366,"o":1.23224,"h":1.233,"l":1.2321,"c":1.23287},
{"k":367,"o":1.23287,"h":1.233,"l":1.23225,"c":1.23236},
{"k":368,"o":1.23231,"h":1.2328,"l":1.2322,"c":1.23271},
{"k":369,"o":1.23271,"h":1.234,"l":1.2326,"c":1.23333},
{"k":370,"o":1.23336,"h":1.2341,"l":1.2321,"c":1.23229},
{"k":371,"o":1.23236,"h":1.23245,"l":1.2307,"c":1.23085},
{"k":372,"o":1.23085,"h":1.2309,"l":1.2285,"c":1.22974},
{"k":373,"o":1.22974,"h":1.2301,"l":1.2296,"c":1.22997},
{"k":374,"o":1.22997,"h":1.2301,"l":1.2293,"c":1.22941},
{"k":375,"o":1.22941,"h":1.2306,"l":1.2293,"c":1.23043},
{"k":376,"o":1.23043,"h":1.2307,"l":1.2304,"c":1.23062},
{"k":377,"o":1.23062,"h":1.23375,"l":1.22922,"c":1.23136},
{"k":378,"o":1.23143,"h":1.2316,"l":1.231,"c":1.23113},
{"k":379,"o":1.23113,"h":1.2312,"l":1.22955,"c":1.22969},
{"k":380,"o":1.22969,"h":1.2298,"l":1.22788,"c":1.22876},
{"k":381,"o":1.22876,"h":1.2303,"l":1.2286,"c":1.23004},
{"k":382,"o":1.23004,"h":1.2301,"l":1.2285,"c":1.22922},
{"k":383,"o":1.22922,"h":1.2294,"l":1.22899,"c":1.22918},
{"k":384,"o":1.22918,"h":1.2293,"l":1.2279,"c":1.22807},
{"k":385,"o":1.22695,"h":1.22876,"l":1.22654,"c":1.2276},
{"k":386,"o":1.2276,"h":1.2286,"l":1.2275,"c":1.22841},
{"k":387,"o":1.22841,"h":1.2287,"l":1.2282,"c":1.22837},
{"k":388,"o":1.22834,"h":1.2285,"l":1.2277,"c":1.22788},
{"k":389,"o":1.22788,"h":1.22899,"l":1.2277,"c":1.22872},
{"k":390,"o":1.22872,"h":1.2289,"l":1.2279,"c":1.22802},
{"k":391,"o":1.22807,"h":1.2282,"l":1.2274,"c":1.22749},
{"k":392,"o":1.22756,"h":1.2277,"l":1.2274,"c":1.22752},
{"k":393,"o":1.2276,"h":1.2277,"l":1.22626,"c":1.22672},
{"k":394,"o":1.22679,"h":1.22807,"l":1.2253,"c":1.22626},
{"k":395,"o":1.22626,"h":1.22749,"l":1.22319,"c":1.22672},
{"k":396,"o":1.22672,"h":1.23201,"l":1.2266,"c":1.23136},
{"k":397,"o":1.23136,"h":1.23505,"l":1.23113,"c":1.23484},
{"k":398,"o":1.2348,"h":1.23839,"l":1.2347,"c":1.23793},
{"k":399,"o":1.23793,"h":1.23816,"l":1.2348,"c":1.23596},
{"k":400,"o":1.23624,"h":1.23734,"l":1.23549,"c":1.23596},
{"k":401,"o":1.23619,"h":1.237,"l":1.2359,"c":1.23647},
{"k":402,"o":1.23654,"h":1.23723,"l":1.23213,"c":1.23433},
{"k":403,"o":1.23456,"h":1.237,"l":1.234,"c":1.23654},
{"k":404,"o":1.23654,"h":1.2368,"l":1.2341,"c":1.23461},
{"k":405,"o":1.23531,"h":1.23545,"l":1.23365,"c":1.23456},
{"k":406,"o":1.23531,"h":1.23545,"l":1.2343,"c":1.23445},
{"k":407,"o":1.23445,"h":1.2347,"l":1.2343,"c":1.23456},
{"k":408,"o":1.23456,"h":1.2347,"l":1.2341,"c":1.23433},
{"k":409,"o":1.23415,"h":1.2347,"l":1.23387,"c":1.2345},
{"k":410,"o":1.2345,"h":1.2347,"l":1.2343,"c":1.23452},
{"k":411,"o":1.23452,"h":1.2347,"l":1.2341,"c":1.23445},
{"k":412,"o":1.23456,"h":1.2347,"l":1.23387,"c":1.2341},
{"k":413,"o":1.2341,"h":1.2347,"l":1.2334,"c":1.23456},
{"k":414,"o":1.23456,"h":1.2347,"l":1.2336,"c":1.23375},
{"k":415,"o":1.23387,"h":1.234,"l":1.2336,"c":1.23375},
{"k":416,"o":1.23387,"h":1.2341,"l":1.2338,"c":1.23398},
{"k":417,"o":1.23382,"h":1.23445,"l":1.2337,"c":1.23433},
{"k":418,"o":1.23433,"h":1.23793,"l":1.2342,"c":1.23631},
{"k":419,"o":1.23631,"h":1.23654,"l":1.23062,"c":1.2312},
{"k":420,"o":1.2312,"h":1.2326,"l":1.23058,"c":1.23248},
{"k":421,"o":1.23248,"h":1.23387,"l":1.232,"c":1.23213},
{"k":422,"o":1.23213,"h":1.2336,"l":1.232,"c":1.23352},
{"k":423,"o":1.23352,"h":1.23526,"l":1.2334,"c":1.23415},
{"k":424,"o":1.23415,"h":1.2373,"l":1.234,"c":1.23716},
{"k":425,"o":1.23716,"h":1.23745,"l":1.2366,"c":1.23677},
{"k":426,"o":1.23677,"h":1.2369,"l":1.2351,"c":1.23526},
{"k":427,"o":1.23526,"h":1.23677,"l":1.2351,"c":1.23531},
{"k":428,"o":1.23531,"h":1.23545,"l":1.23387,"c":1.23445},
{"k":429,"o":1.23445,"h":1.235,"l":1.23391,"c":1.23491},
{"k":430,"o":1.23484,"h":1.2357,"l":1.2347,"c":1.23554},
{"k":431,"o":1.23554,"h":1.2357,"l":1.2345,"c":1.23461},
{"k":432,"o":1.23461,"h":1.23584,"l":1.2344,"c":1.23577},
{"k":433,"o":1.23554,"h":1.236,"l":1.2354,"c":1.23573},
{"k":434,"o":1.23573,"h":1.2359,"l":1.2353,"c":1.23549},
{"k":435,"o":1.23561,"h":1.236,"l":1.2354,"c":1.23577},
{"k":436,"o":1.23577,"h":1.2359,"l":1.2348,"c":1.23498},
{"k":437,"o":1.23498,"h":1.2351,"l":1.23398,"c":1.23445},
{"k":438,"o":1.23445,"h":1.2348,"l":1.2342,"c":1.23461},
{"k":439,"o":1.23456,"h":1.2353,"l":1.2344,"c":1.23521},
{"k":440,"o":1.23521,"h":1.2361,"l":1.2351,"c":1.23573},
{"k":441,"o":1.23573,"h":1.23677,"l":1.2354,"c":1.23637},
{"k":442,"o":1.23647,"h":1.23688,"l":1.23433,"c":1.23568},
{"k":443,"o":1.23568,"h":1.237,"l":1.23433,"c":1.23654},
{"k":444,"o":1.23654,"h":1.23688,"l":1.2356,"c":1.23584},
{"k":445,"o":1.23624,"h":1.237,"l":1.2341,"c":1.23577},
{"k":446,"o":1.23577,"h":1.2359,"l":1.2343,"c":1.23452},
{"k":447,"o":1.23452,"h":1.2346,"l":1.2336,"c":1.23391},
{"k":448,"o":1.23391,"h":1.23491,"l":1.23318,"c":1.23352},
{"k":449,"o":1.23352,"h":1.2336,"l":1.2324,"c":1.23266},
{"k":450,"o":1.23266,"h":1.2348,"l":1.23178,"c":1.23445},
{"k":451,"o":1.23445,"h":1.23468,"l":1.23132,"c":1.23229},
{"k":452,"o":1.23236,"h":1.2325,"l":1.23166,"c":1.23213},
{"k":453,"o":1.23224,"h":1.2326,"l":1.23132,"c":1.23248},
{"k":454,"o":1.23248,"h":1.23345,"l":1.2319,"c":1.23329},
{"k":455,"o":1.23275,"h":1.23345,"l":1.2326,"c":1.23329},
{"k":456,"o":1.23329,"h":1.23345,"l":1.2323,"c":1.23248},
{"k":457,"o":1.23282,"h":1.233,"l":1.2323,"c":1.23248},
{"k":458,"o":1.23248,"h":1.233,"l":1.2324,"c":1.23289},
{"k":459,"o":1.23289,"h":1.23352,"l":1.23275,"c":1.23336},
{"k":460,"o":1.23313,"h":1.23345,"l":1.233,"c":1.23336},
{"k":461,"o":1.23306,"h":1.2332,"l":1.2329,"c":1.23306},
{"k":462,"o":1.23306,"h":1.23313,"l":1.2325,"c":1.23259},
{"k":463,"o":1.23259,"h":1.2331,"l":1.2325,"c":1.23299},
{"k":464,"o":1.23289,"h":1.2331,"l":1.2328,"c":1.23299},
{"k":465,"o":1.23299,"h":1.2331,"l":1.2324,"c":1.23248},
{"k":466,"o":1.23243,"h":1.2331,"l":1.23155,"c":1.23299},
{"k":467,"o":1.23299,"h":1.23375,"l":1.2318,"c":1.23197},
{"k":468,"o":1.23197,"h":1.2324,"l":1.23166,"c":1.23229},
{"k":469,"o":1.23213,"h":1.23345,"l":1.23166,"c":1.23336},
{"k":470,"o":1.23336,"h":1.23345,"l":1.2315,"c":1.2319},
{"k":471,"o":1.23183,"h":1.23289,"l":1.2317,"c":1.23213},
{"k":472,"o":1.23213,"h":1.2323,"l":1.22818,"c":1.22888},
{"k":473,"o":1.22899,"h":1.23498,"l":1.2286,"c":1.23456},
{"k":474,"o":1.23456,"h":1.23491,"l":1.2328,"c":1.23299},
{"k":475,"o":1.23299,"h":1.23573,"l":1.2328,"c":1.23554},
{"k":476,"o":1.23554,"h":1.23584,"l":1.2347,"c":1.23484},
{"k":477,"o":1.23483,"h":1.23566,"l":1.23455,"c":1.23554}
]
},
"layer": [
{"data": {"values": [{}]}, "mark": {"type": "rect", "color": "#B0E0E6"},
 "encoding": {"x": {"datum": 503.9, "type": "quantitative", "scale": {"domain": [-0.333, 606.42], "nice": false, "zero": false},
   "axis": {"orient": "bottom", "values": [0.2,38.2,76.5,114.7,153,191.3,229.6,267.9,306.2,344.5,382.7,421,459],
     "labelExpr": "['15 Aug 2019','19 Aug 13:00','21 Aug 03:00','22 Aug 17:00','26 Aug 07:00','27 Aug 21:00','29 Aug 11:00','2 Sep 01:00','3 Sep 15:00','5 Sep 05:00','6 Sep 19:00','10 Sep 09:00','11 Sep 23:00'][indexof([0.2,38.2,76.5,114.7,153,191.3,229.6,267.9,306.2,344.5,382.7,421,459], datum.value)]",
     "labelAlign": "left", "labelBaseline": "top", "labelPadding": 3, "tickSize": 5, "tickColor": "#000000", "labelFont": "DejaVu Sans", "labelFontSize": 14, "labelColor": "#000000", "labelOverlap": false, "labelBound": false, "labelFlush": false, "domain": false, "grid": false, "title": null}},
  "x2": {"datum": 529.9},
  "y": {"datum": 1.24536, "type": "quantitative", "scale": {"domain": [1.17935, 1.25615], "nice": false, "zero": false},
   "axis": {"orient": "right", "values": [1.25225,1.24685,1.2415,1.23615,1.2308,1.2254,1.22005,1.2147,1.20935,1.204,1.1986,1.19325,1.1879,1.18255],
     "format": ".5f", "labelFont": "DejaVu Sans", "labelFontSize": 14.5, "labelColor": "#000000", "tickSize": 5, "tickColor": "#000000", "labelPadding": 8, "labelOverlap": false, "labelBound": false, "labelFlush": false, "labelBaseline": "middle", "labelAlign": "left", "domain": false, "grid": false, "title": null}},
  "y2": {"datum": 1.24438}}},
{"data": {"name": "grid"}, "mark": {"type": "rule", "color": "#000000", "strokeWidth": 1, "strokeDash": [3, 3]},
 "encoding": {"x": {"field": "k", "type": "quantitative"}}},
{"data": {"name": "levels"}, "mark": {"type": "rule", "strokeWidth": 1},
 "encoding": {"y": {"field": "p", "type": "quantitative"},
  "stroke": {"field": "lbl", "type": "nominal", "legend": null, "scale": {"domain": ["H1[+1/8]","H4[3/8] H1RES","H1[7/8]","H1[6/8]","H1[5/8]","D1[1/8] H4[2/8] H1PIVOT","H1[3/8]","H1[2/8]","H1[1/8]","H4[1/8] H1SUP","H1[-1/8]","H1[-2/8]"], "range": ["#FF00FF","#1E90FF","#FF8C00","#FF4500","#556B2F","#1E90FF","#556B2F","#FF4500","#FF8C00","#1E90FF","#FF00FF","#C71585"]}},
  "strokeDash": {"field": "lbl", "type": "nominal", "legend": null, "scale": {"domain": ["H1[+1/8]","H4[3/8] H1RES","H1[7/8]","H1[6/8]","H1[5/8]","D1[1/8] H4[2/8] H1PIVOT","H1[3/8]","H1[2/8]","H1[1/8]","H4[1/8] H1SUP","H1[-1/8]","H1[-2/8]"], "range": [[10,3,3,3],[14,7],[10,3,3,3],[10,3,3,3],[10,3,3,3],[3,3],[10,3,3,3],[10,3,3,3],[10,3,3,3],[14,7],[10,3,3,3],[10,3,3,3]]}}}},
{"data": {"name": "levels"}, "mark": {"type": "text", "font": "Liberation Sans", "fontSize": 17, "align": "center", "baseline": "middle", "dy": 10.5},
 "encoding": {"x": {"datum": 451.3, "type": "quantitative"}, "y": {"field": "p", "type": "quantitative"}, "text": {"field": "lbl"},
  "fill": {"field": "lbl", "type": "nominal", "legend": null, "scale": {"domain": ["H1[+1/8]","H4[3/8] H1RES","H1[7/8]","H1[6/8]","H1[5/8]","D1[1/8] H4[2/8] H1PIVOT","H1[3/8]","H1[2/8]","H1[1/8]","H4[1/8] H1SUP","H1[-1/8]","H1[-2/8]"], "range": ["#FF00FF","#1E90FF","#FF8C00","#FF4500","#556B2F","#1E90FF","#556B2F","#FF4500","#FF8C00","#1E90FF","#FF00FF","#C71585"]}}}},
{"data": {"name": "bid"}, "mark": {"type": "rule", "color": "#C0C0C0", "strokeWidth": 1},
 "encoding": {"y": {"field": "p", "type": "quantitative"}}},
{"data": {"name": "orders"}, "mark": {"type": "rule", "strokeWidth": 1.5, "strokeDash": [10, 3, 3, 3]},
 "encoding": {"y": {"field": "p", "type": "quantitative"},
  "stroke": {"condition": {"test": "datum.kind == 'buy'", "value": "#008000"}, "value": "#FF3C00"}}},
{"data": {"name": "orders"}, "mark": {"type": "text", "font": "DejaVu Sans", "fontSize": 14, "align": "left", "baseline": "middle", "dy": -10, "color": "#000000"},
 "encoding": {"x": {"datum": 2.9, "type": "quantitative"}, "y": {"field": "p", "type": "quantitative"}, "text": {"field": "name"}}},
{"data": {"name": "trend"}, "mark": {"type": "line", "color": "#778899", "strokeWidth": 2},
 "encoding": {"x": {"field": "k", "type": "quantitative"}, "y": {"field": "p", "type": "quantitative"}}},
{"data": {"values": [{}]}, "mark": {"type": "rule", "color": "#FF0000", "strokeWidth": 1},
 "encoding": {"x": {"datum": 508.2, "type": "quantitative"}, "x2": {"datum": 510.8}, "y": {"datum": 1.227, "type": "quantitative"}}},
{"data": {"values": [{}]}, "mark": {"type": "rect", "fill": "#F0F8FF", "stroke": "#FF0000", "strokeWidth": 2},
 "encoding": {"x": {"datum": 510.8, "type": "quantitative"}, "x2": {"datum": 527.2}, "y": {"datum": 1.22774, "type": "quantitative"}, "y2": {"datum": 1.22621}}},
{"data": {"values": [{"t": "1.22700"}]}, "mark": {"type": "text", "font": "Liberation Sans", "fontSize": 18, "align": "center", "baseline": "middle", "color": "#FF0000"},
 "encoding": {"x": {"datum": 519, "type": "quantitative"}, "y": {"datum": 1.227, "type": "quantitative"}, "text": {"field": "t"}}},
{"data": {"name": "ind"}, "transform": [{"filter": "datum.t == 'su'"}], "mark": {"type": "line", "color": "#B0C4DE", "strokeWidth": 3},
 "encoding": {"x": {"field": "k", "type": "quantitative"}, "y": {"field": "v", "type": "quantitative"}, "detail": {"field": "s"}, "order": {"field": "k"}}},
{"data": {"name": "ind"}, "transform": [{"filter": "datum.t == 'sd'"}], "mark": {"type": "line", "color": "#FFB6C1", "strokeWidth": 3},
 "encoding": {"x": {"field": "k", "type": "quantitative"}, "y": {"field": "v", "type": "quantitative"}, "detail": {"field": "s"}, "order": {"field": "k"}}},
{"data": {"name": "ind"}, "transform": [{"filter": "datum.t == 'fu'"}], "mark": {"type": "line", "color": "#8FBC8F", "strokeWidth": 1.8},
 "encoding": {"x": {"field": "k", "type": "quantitative"}, "y": {"field": "v", "type": "quantitative"}, "detail": {"field": "s"}, "order": {"field": "k"}}},
{"data": {"name": "ind"}, "transform": [{"filter": "datum.t == 'fd'"}], "mark": {"type": "line", "color": "#DDA0DD", "strokeWidth": 1.8},
 "encoding": {"x": {"field": "k", "type": "quantitative"}, "y": {"field": "v", "type": "quantitative"}, "detail": {"field": "s"}, "order": {"field": "k"}}},
{"data": {"name": "candles"}, "mark": {"type": "rule", "color": "#000000", "strokeWidth": 1},
 "encoding": {"x": {"field": "k", "type": "quantitative"}, "y": {"field": "l", "type": "quantitative"}, "y2": {"field": "h"}}},
{"data": {"name": "candles"}, "mark": {"type": "bar", "orient": "vertical", "size": 3, "stroke": "#000000", "strokeWidth": 0.8},
 "encoding": {"x": {"field": "k", "type": "quantitative"}, "y": {"field": "o", "type": "quantitative"}, "y2": {"field": "c"},
  "fill": {"condition": {"test": "datum.c >= datum.o", "value": "#4CC04C"}, "value": "#DD1C1C"}}},
{"data": {"name": "levels"}, "mark": {"type": "tick", "orient": "horizontal", "size": 76, "thickness": 19, "opacity": 1, "clip": false},
 "encoding": {"x": {"datum": 617.3, "type": "quantitative"}, "y": {"field": "p", "type": "quantitative"},
  "color": {"field": "lbl", "type": "nominal", "legend": null, "scale": {"domain": ["H1[+1/8]","H4[3/8] H1RES","H1[7/8]","H1[6/8]","H1[5/8]","D1[1/8] H4[2/8] H1PIVOT","H1[3/8]","H1[2/8]","H1[1/8]","H4[1/8] H1SUP","H1[-1/8]","H1[-2/8]"], "range": ["#FF00FF","#1E90FF","#FF8C00","#FF4500","#556B2F","#1E90FF","#556B2F","#FF4500","#FF8C00","#1E90FF","#FF00FF","#C71585"]}}}},
{"data": {"name": "bid"}, "mark": {"type": "tick", "orient": "horizontal", "size": 76, "thickness": 19, "opacity": 1, "clip": false, "color": "#000000"},
 "encoding": {"x": {"datum": 617.3, "type": "quantitative"}, "y": {"field": "p", "type": "quantitative"}}},
{"data": {"name": "levels"}, "mark": {"type": "text", "font": "DejaVu Sans", "fontSize": 14.5, "align": "left", "baseline": "middle", "color": "#FFFFFF", "clip": false},
 "encoding": {"x": {"datum": 609.8, "type": "quantitative"}, "y": {"field": "p", "type": "quantitative"}, "text": {"field": "p", "type": "quantitative", "format": ".5f"}}},
{"data": {"name": "bid"}, "mark": {"type": "text", "font": "DejaVu Sans", "fontSize": 14.5, "align": "left", "baseline": "middle", "color": "#FFFFFF", "clip": false},
 "encoding": {"x": {"datum": 609.8, "type": "quantitative"}, "y": {"field": "p", "type": "quantitative"}, "text": {"field": "p", "type": "quantitative", "format": ".5f"}}},
{"data": {"name": "title"}, "mark": {"type": "text", "font": "DejaVu Sans", "fontSize": 14, "align": "left", "baseline": "middle", "color": "#000000"},
 "encoding": {"x": {"datum": 5.9, "type": "quantitative"}, "y": {"datum": 1.25517, "type": "quantitative"}, "text": {"field": "t"}}},
{"data": {"values": [{"t": "\u25bc"}]}, "mark": {"type": "text", "font": "DejaVu Sans", "fontSize": 11, "align": "center", "baseline": "middle", "color": "#000000"},
 "encoding": {"x": {"datum": 1.9, "type": "quantitative"}, "y": {"datum": 1.25517, "type": "quantitative"}, "text": {"field": "t"}}}
]
}
